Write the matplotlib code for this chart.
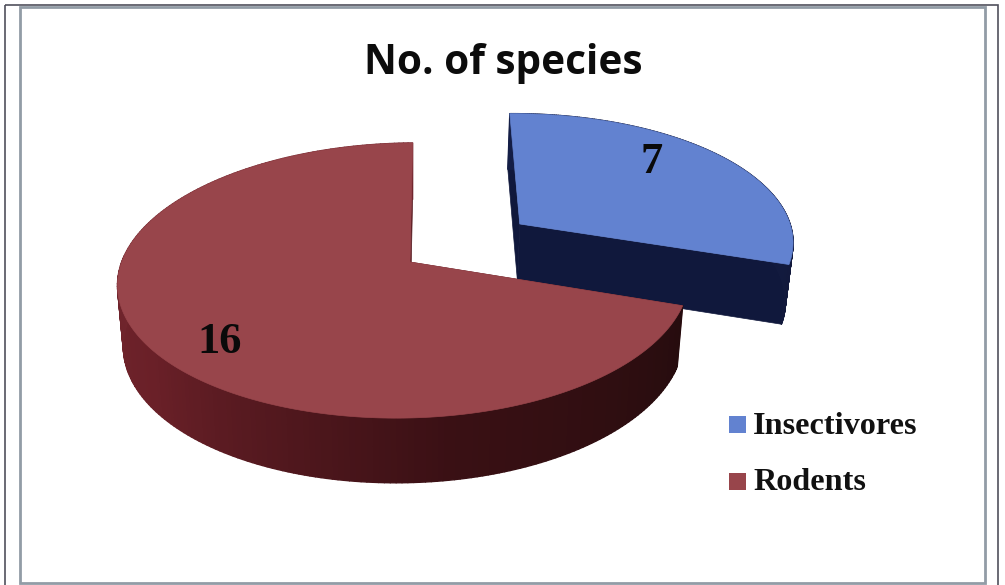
import numpy as np
import matplotlib
matplotlib.use("Agg")
import matplotlib.pyplot as plt
from matplotlib.collections import PolyCollection
from matplotlib.patches import Polygon, Rectangle

categories = ["Insectivores", "Rodents"]
species = [7, 16]
top_colors = ["#6282d0", "#98454b"]
wall_colors = ["#10183c", "#5a1c22"]
# rim shading of each slice, from the start angle to the end angle
rim_shades = [["#141e46", "#12193c"], ["#260c0e", "#3a1014", "#6a2028", "#74282f", "#71262e"]]
value_pos = [(652, 162), (220, 342)]
legend_y = [426, 483]

# projection of the tilted disc, in pixels
cx, cy = 410, 262
A, B, C = 283.2, -99.8, 0.1345
Dx, Dy = 0.0213, 0.012
depth = 60
shrink = 0.98
explode = [0.493, 0.0]
stretch = [1.025, 1.0]


def project(x, y):
    sx = cx + (A * x + 3 * y) / (1 + C * y + Dx * x)
    sy = (cy + B * y) / (1 + C * y + Dy * x)
    return sx, sy


def lower(sx, sy, x, y):
    k = 1 + C * y + Dy * x
    return cx + (sx - cx) * shrink, sy + depth * (0.5 + 0.5 / k)


fig = plt.figure(figsize=(10.05, 5.85), dpi=100)
ax = fig.add_axes([0, 0, 1, 1])
ax.set_xlim(0, 1005)
ax.set_ylim(585, 0)
ax.axis("off")

# double frame
ax.add_patch(Rectangle((5, 5), 993, 590, fill=False, ec="#50505c", lw=1.2))
ax.add_patch(Rectangle((20, 7), 965, 576, fill=False, ec="#929ca6", lw=2))

fractions = np.cumsum([0] + species) / sum(species)
for i in range(len(species)):
    a0, a1 = 2 * np.pi * fractions[i], 2 * np.pi * fractions[i + 1]
    mid = (a0 + a1) / 2
    ox, oy = explode[i] * np.sin(mid), explode[i] * np.cos(mid)
    th = np.linspace(a0, a1, 240)
    x = ox + stretch[i] * np.sin(th)
    y = oy + np.cos(th)
    sx, sy = project(x, y)
    lx, ly = lower(sx, sy, x, y)
    ax0, ay0 = project(ox, oy)
    bx0, by0 = lower(ax0, ay0, ox, oy)

    # walls along both cut edges, hidden later by the top where needed
    for j in (0, -1):
        wall = [(sx[j], sy[j]), (ax0, ay0), (bx0, by0), (lx[j], ly[j])]
        ax.add_patch(Polygon(wall, fc=wall_colors[i], ec=wall_colors[i], lw=0.5))

    # outer rim, one small quad per step so it can be shaded
    rgb = np.array([matplotlib.colors.to_rgb(c) for c in rim_shades[i]])
    pos = np.linspace(0, 1, len(rgb))
    t = np.linspace(0, 1, len(th) - 1)
    cols = np.column_stack([np.interp(t, pos, rgb[:, k]) for k in range(3)])
    quads = [[(sx[j], sy[j]), (sx[j + 1], sy[j + 1]), (lx[j + 1], ly[j + 1]), (lx[j], ly[j])]
             for j in range(len(th) - 1)]
    ax.add_collection(PolyCollection(quads, facecolors=cols, edgecolors=cols, linewidths=1.0))

    top = np.vstack([[ax0, ay0], np.column_stack([sx, sy])])
    ax.add_patch(Polygon(top, fc=top_colors[i], ec=top_colors[i], lw=0.5))

ax.text(503, 63, "No. of species", ha="center", va="center", family="Open Sans",
        weight="bold", fontsize=29.2, color="#0c0c0c")

for val, (px, py) in zip(species, value_pos):
    ax.text(px, py, str(val), ha="center", va="center", family="Liberation Serif",
            weight="bold", fontsize=32, color="#0a0a0a")

for name, col, ly in zip(categories, top_colors, legend_y):
    ax.add_patch(Rectangle((729, ly - 10.5), 17, 17, fc=col, ec="none"))
    ax.text(753, ly, name, ha="left", va="center", family="Liberation Serif",
            weight="bold", fontsize=23.2, color="#111111")

fig.savefig("out.png", dpi=100)
